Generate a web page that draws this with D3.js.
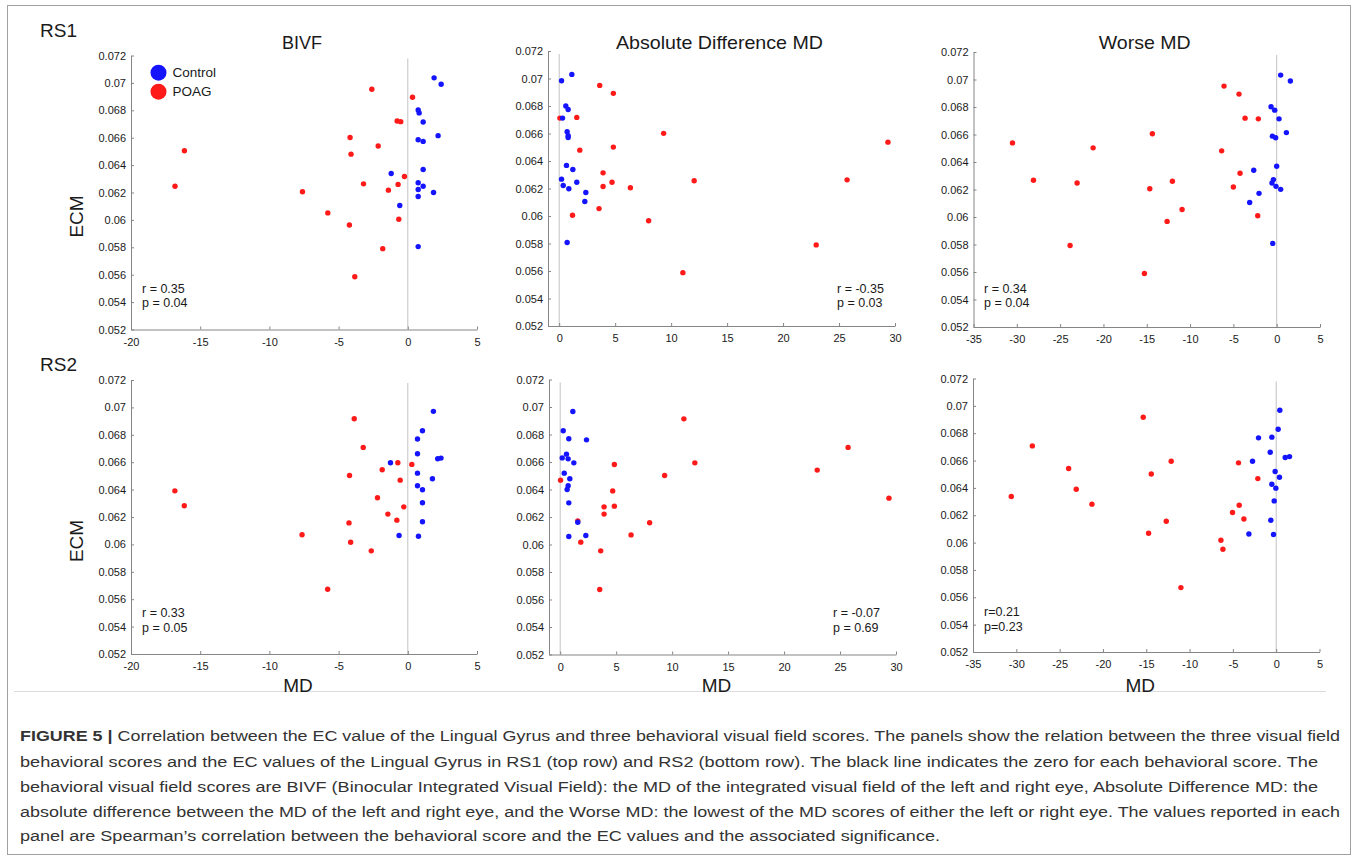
<!DOCTYPE html>
<html>
<head>
<meta charset="utf-8">
<script src="https://cdn.jsdelivr.net/npm/d3@7"></script>
<style>
  body { margin: 0; background: #fff; }
  svg text { font-family: "Liberation Sans", Arial, Helvetica, sans-serif; }
</style>
</head>
<body>
<div id="chart"></div>
<script>
// values, [MD score, ECM]
const rs1BivfPoag = [[-2.60,0.06954],[0.34,0.06895],[-0.77,0.06722],[-0.51,0.06717],[-4.17,0.06602],[-2.14,0.06539],[-16.14,0.06505],[-4.10,0.06480],[-0.24,0.06317],[-3.20,0.06263],[-0.70,0.06259],[-16.82,0.06246],[-1.40,0.06217],[-7.61,0.06205],[-5.78,0.06051],[-0.65,0.06005],[-4.22,0.05963],[-1.81,0.05790],[-3.83,0.05585]];
const rs1BivfControl = [[1.90,0.07037],[2.41,0.06990],[0.75,0.06802],[0.82,0.06781],[1.11,0.06715],[2.19,0.06615],[0.75,0.06585],[1.11,0.06573],[1.11,0.06368],[-1.20,0.06339],[0.75,0.06271],[1.11,0.06246],[0.75,0.06222],[1.86,0.06200],[0.75,0.06171],[-0.58,0.06105],[0.75,0.05805]];
const rs1AbsPoag = [[3.62,0.06950],[4.84,0.06892],[0.06,0.06712],[1.57,0.06717],[9.33,0.06601],[1.84,0.06479],[4.84,0.06501],[29.37,0.06537],[3.92,0.06314],[12.06,0.06256],[25.72,0.06263],[3.92,0.06215],[4.72,0.06246],[6.36,0.06205],[3.56,0.06054],[1.19,0.06006],[7.99,0.05965],[22.96,0.05790],[11.05,0.05588]];
const rs1AbsControl = [[1.13,0.07030],[0.21,0.06984],[0.59,0.06800],[0.80,0.06775],[0.30,0.06712],[0.71,0.06613],[0.80,0.06584],[0.80,0.06571],[0.65,0.06368],[1.22,0.06338],[0.21,0.06268],[1.57,0.06246],[0.36,0.06222],[0.86,0.06198],[2.38,0.06171],[2.29,0.06105],[0.71,0.05807]];
const rs1WorsePoag = [[-6.08,0.06952],[-4.35,0.06894],[-3.65,0.06719],[-2.12,0.06714],[-14.35,0.06605],[-30.50,0.06539],[-21.19,0.06503],[-6.35,0.06481],[-4.23,0.06318],[-28.08,0.06267],[-23.04,0.06247],[-12.04,0.06260],[-14.65,0.06206],[-5.00,0.06218],[-10.92,0.06055],[-2.19,0.06009],[-12.65,0.05968],[-23.85,0.05793],[-15.27,0.05589]];
const rs1WorseControl = [[0.46,0.07032],[1.58,0.06989],[-0.65,0.06802],[-0.23,0.06777],[0.27,0.06714],[1.12,0.06614],[-0.50,0.06588],[-0.12,0.06576],[0.00,0.06369],[-2.65,0.06340],[-0.38,0.06272],[-0.54,0.06247],[-0.08,0.06223],[0.46,0.06201],[-2.04,0.06172],[-3.12,0.06106],[-0.46,0.05808]];

const rs2BivfPoag = [[-3.87,0.06917],[-3.22,0.06708],[-0.72,0.06596],[0.29,0.06584],[-1.85,0.06545],[-4.21,0.06503],[-0.55,0.06469],[-16.83,0.06391],[-2.19,0.06340],[-0.29,0.06274],[-16.15,0.06282],[-1.44,0.06221],[-0.79,0.06177],[-4.25,0.06157],[-7.64,0.06070],[-4.13,0.06016],[-2.64,0.05953],[-5.79,0.05673]];
const rs2BivfControl = [[1.85,0.06971],[1.06,0.06830],[0.70,0.06769],[0.70,0.06662],[-1.25,0.06596],[2.16,0.06625],[2.40,0.06630],[0.70,0.06520],[1.78,0.06479],[0.70,0.06428],[1.06,0.06399],[1.06,0.06304],[1.06,0.06165],[-0.63,0.06065],[0.77,0.06060]];
const rs2AbsPoag = [[11.05,0.06914],[25.72,0.06706],[4.84,0.06582],[12.03,0.06594],[22.96,0.06541],[9.33,0.06502],[0.03,0.06468],[4.69,0.06390],[3.92,0.06274],[4.84,0.06279],[29.37,0.06337],[3.92,0.06221],[1.57,0.06172],[7.99,0.06158],[6.33,0.06070],[1.84,0.06017],[3.62,0.05954],[3.53,0.05673]];
const rs2AbsControl = [[1.13,0.06967],[0.27,0.06827],[0.77,0.06769],[2.35,0.06761],[0.56,0.06657],[0.18,0.06630],[0.71,0.06623],[1.22,0.06594],[0.36,0.06519],[0.86,0.06478],[0.71,0.06427],[0.62,0.06400],[0.77,0.06303],[1.57,0.06162],[0.77,0.06058],[2.29,0.06066]];
const rs2WorsePoag = [[-15.35,0.06917],[-28.15,0.06707],[-12.12,0.06595],[-4.35,0.06583],[-23.96,0.06542],[-14.42,0.06502],[-2.12,0.06468],[-23.08,0.06390],[-30.58,0.06337],[-21.27,0.06281],[-4.27,0.06273],[-5.04,0.06220],[-3.73,0.06173],[-12.69,0.06156],[-14.73,0.06068],[-6.38,0.06017],[-6.15,0.05951],[-11.00,0.05671]];
const rs2WorseControl = [[0.42,0.06968],[0.23,0.06829],[-2.04,0.06766],[-0.50,0.06771],[-0.69,0.06661],[1.04,0.06622],[1.54,0.06629],[-2.73,0.06595],[-0.12,0.06520],[0.38,0.06478],[-0.50,0.06427],[-0.04,0.06398],[-0.23,0.06305],[-0.62,0.06163],[-3.15,0.06063],[-0.31,0.06059]];

// axis ticks
const yDomain = [0.052, 0.072];
const yTicks = [0.052, 0.054, 0.056, 0.058, 0.06, 0.062, 0.064, 0.066, 0.068, 0.07, 0.072];
const yTickLabels = ["0.052", "0.054", "0.056", "0.058", "0.06", "0.062", "0.064", "0.066", "0.068", "0.07", "0.072"];
const bivfTicks = [-20, -15, -10, -5, 0, 5];
const absTicks = [0, 5, 10, 15, 20, 25, 30];
const worseTicks = [-35, -30, -25, -20, -15, -10, -5, 0, 5];

const titles = ["BIVF", "Absolute Difference MD", "Worse MD"];
const statsR = ["r = 0.35", "r = -0.35", "r = 0.34", "r = 0.33", "r = -0.07", "r=0.21"];
const statsP = ["p = 0.04", "p = 0.03", "p = 0.04", "p = 0.05", "p = 0.69", "p=0.23"];

const captionLines = [
  "Correlation between the EC value of the Lingual Gyrus and three behavioral visual field scores. The panels show the relation between the three visual field",
  "behavioral scores and the EC values of the Lingual Gyrus in RS1 (top row) and RS2 (bottom row). The black line indicates the zero for each behavioral score. The",
  "behavioral visual field scores are BIVF (Binocular Integrated Visual Field): the MD of the integrated visual field of the left and right eye, Absolute Difference MD: the",
  "absolute difference between the MD of the left and right eye, and the Worse MD: the lowest of the MD scores of either the left or right eye. The values reported in each",
  "panel are Spearman\u2019s correlation between the behavioral score and the EC values and the associated significance."
];

const blue = "#1414ff";
const red = "#ff1a1a";
const axisGrey = "#858585";
const textCol = "#1a1a1a";

const width = 1358;
const height = 858;

const svg = d3.select("#chart").append("svg")
  .attr("width", width)
  .attr("height", height);

// outer frame
svg.append("rect")
  .attr("x", 7.5).attr("y", 5.5)
  .attr("width", 1343).attr("height", 849)
  .attr("fill", "none")
  .attr("stroke", "#a0a0a0");

// bottom edge of the figure image
svg.append("line")
  .attr("x1", 14).attr("x2", 1326)
  .attr("y1", 691.5).attr("y2", 691.5)
  .attr("stroke", "#dcdcdc");

// pixel boxes of the six axes
const boxes = [
  { l: 131, r: 477, t: 55.5, b: 329.5, sx: 142, sy: 288 },
  { l: 548, r: 895, t: 51, b: 326, sx: 837, sy: 288 },
  { l: 973.5, r: 1320, t: 52, b: 327, sx: 984, sy: 288 },
  { l: 131, r: 477, t: 380, b: 654, sx: 142, sy: 612.5 },
  { l: 549, r: 896, t: 379.5, b: 654.5, sx: 833, sy: 612.5 },
  { l: 973, r: 1319.5, t: 378.5, b: 652, sx: 984, sy: 611.5 }
];
const titleWidths = [40, 207, 92];

const panels = [
  { poag: rs1BivfPoag, control: rs1BivfControl, xDomain: [-20, 5], xTicks: bivfTicks },
  { poag: rs1AbsPoag, control: rs1AbsControl, xDomain: [-1, 30], xTicks: absTicks },
  { poag: rs1WorsePoag, control: rs1WorseControl, xDomain: [-35, 5], xTicks: worseTicks },
  { poag: rs2BivfPoag, control: rs2BivfControl, xDomain: [-20, 5], xTicks: bivfTicks },
  { poag: rs2AbsPoag, control: rs2AbsControl, xDomain: [-1, 30], xTicks: absTicks },
  { poag: rs2WorsePoag, control: rs2WorseControl, xDomain: [-35, 5], xTicks: worseTicks }
];

panels.forEach((p, i) => drawPanel(p, boxes[i], i));

function drawPanel(p, box, i) {
  const x = d3.scaleLinear().domain(p.xDomain).range([box.l, box.r]);
  const y = d3.scaleLinear().domain(yDomain).range([box.b, box.t]);
  const g = svg.append("g");

  // zero reference line
  g.append("line")
    .attr("x1", x(0)).attr("x2", x(0))
    .attr("y1", box.t + 3).attr("y2", box.b)
    .attr("stroke", "#c2c2c2")
    .attr("stroke-width", 1);

  const xAxis = g.append("g")
    .attr("transform", `translate(0,${box.b})`)
    .call(d3.axisBottom(x).tickValues(p.xTicks).tickSize(-3).tickSizeOuter(0)
      .tickPadding(8.5).tickFormat(d => String(d)));

  const yAxis = g.append("g")
    .attr("transform", `translate(${box.l},0)`)
    .call(d3.axisLeft(y).tickValues(yTicks).tickSize(-3).tickSizeOuter(0)
      .tickPadding(5).tickFormat((d, k) => yTickLabels[k]));

  for (const ax of [xAxis, yAxis]) {
    ax.select(".domain").attr("stroke", axisGrey);
    ax.selectAll(".tick line").attr("stroke", axisGrey);
    ax.selectAll("text").attr("fill", textCol).attr("font-size", 11);
  }

  // red first, blue on top
  g.selectAll(".poag").data(p.poag)
    .join("circle")
    .attr("class", "poag")
    .attr("cx", d => x(d[0]))
    .attr("cy", d => y(d[1]))
    .attr("r", 2.7)
    .attr("fill", red);

  g.selectAll(".control").data(p.control)
    .join("circle")
    .attr("class", "control")
    .attr("cx", d => x(d[0]))
    .attr("cy", d => y(d[1]))
    .attr("r", 2.7)
    .attr("fill", blue);

  // stats
  g.append("text").attr("x", box.sx).attr("y", box.sy + 4.5)
    .attr("font-size", 12.5).attr("fill", textCol).text(statsR[i]);
  g.append("text").attr("x", box.sx).attr("y", box.sy + 19)
    .attr("font-size", 12.5).attr("fill", textCol).text(statsP[i]);

  // column titles on top row
  if (i < 3) {
    g.append("text")
      .attr("x", (box.l + box.r) / 2 - 2 - titleWidths[i] / 2)
      .attr("y", 49)
      .attr("font-size", 18.5)
      .attr("fill", textCol)
      .attr("textLength", titleWidths[i])
      .attr("lengthAdjust", "spacingAndGlyphs")
      .text(titles[i]);
  }

  // y label on left column
  if (i % 3 === 0) {
    g.append("text")
      .attr("transform", `translate(83,${(box.t + box.b) / 2 + 24}) rotate(-90)`)
      .attr("text-anchor", "middle")
      .attr("font-size", 19)
      .attr("fill", textCol)
      .text("ECM");
  }

  // x label on bottom row
  if (i >= 3) {
    g.append("text")
      .attr("x", (box.l + box.r) / 2 - 6)
      .attr("y", 692)
      .attr("text-anchor", "middle")
      .attr("font-size", 19)
      .attr("fill", textCol)
      .text("MD");
  }
}

// row labels
svg.append("text").attr("x", 40).attr("y", 37).attr("font-size", 19).attr("fill", textCol).text("RS1");
svg.append("text").attr("x", 40).attr("y", 371).attr("font-size", 19).attr("fill", textCol).text("RS2");

// legend
const legend = svg.append("g");
[["Control", blue, 72.7], ["POAG", red, 91.7]].forEach(([name, col, ly]) => {
  legend.append("circle").attr("cx", 158.5).attr("cy", ly).attr("r", 8).attr("fill", col);
  legend.append("text").attr("x", 172.5).attr("y", ly + 4.7)
    .attr("font-size", 13.5).attr("fill", textCol).text(name);
});

// caption
const capWidths = [1320, 1298, 1298, 1320, 920];
const capY = [741, 767, 792, 817, 841];
captionLines.forEach((line, k) => {
  const t = svg.append("text")
    .attr("x", 20)
    .attr("y", capY[k])
    .attr("font-size", 15.5)
    .attr("fill", "#333")
    .attr("textLength", capWidths[k])
    .attr("lengthAdjust", "spacingAndGlyphs");
  if (k === 0) {
    t.append("tspan").attr("font-weight", "bold").text("FIGURE 5 | ");
  }
  t.append("tspan").text(line);
});
</script>
</body>
</html>
